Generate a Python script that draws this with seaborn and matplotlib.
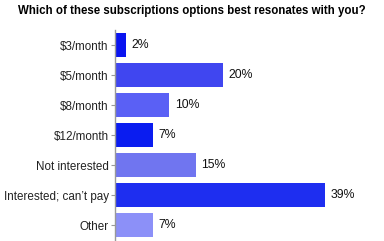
import matplotlib
matplotlib.use("Agg")
import matplotlib.pyplot as plt
import seaborn as sns
import pandas as pd

categories = ["$3/month", "$5/month", "$8/month", "$12/month",
              "Not interested", "Interested; can\u2019t pay", "Other"]
values = [2, 20, 10, 7, 15, 39, 7]
labels = ["2%", "20%", "10%", "7%", "15%", "39%", "7%"]
colors = ["#0a14f0", "#4046f0", "#5a60f5", "#0a1cf0",
          "#7075f0", "#1e2ef0", "#8c90f8"]

sns.set_style("white")
plt.rcParams['font.family'] = ['Liberation Sans', 'DejaVu Sans']

df = pd.DataFrame({"cat": categories, "val": values})

fig = plt.figure(figsize=(3.84, 2.41), dpi=100)
ax = fig.add_axes([115/384, 1/241, (384-115)/384, 210/241])

sns.barplot(data=df, y="cat", x="val", hue="cat", palette=colors,
            orient="h", width=0.8, legend=False, ax=ax, saturation=1,
            edgecolor="none")

for i, (v, t) in enumerate(zip(values, labels)):
    ax.text(v + 1.1, i, t, va="center", ha="left", fontsize=8.8, color="#111111")

ax.set_xlim(0, 50)
ax.set_ylim(6.5, -0.5)
ax.set_xlabel("")
ax.set_ylabel("")
ax.set_xticks([])
for s in ["top", "right", "bottom"]:
    ax.spines[s].set_visible(False)
ax.spines["left"].set_color("#999999")
ax.spines["left"].set_linewidth(1)
ax.tick_params(axis="y", length=3, width=0.8, color="#999999", pad=1.5,
               labelsize=8.4, labelcolor="#222222", left=True)

fig.text(0.5, 1 - 11/241, "Which of these subscriptions options best resonates with you?",
         ha="center", va="center", fontsize=8.3, fontweight="bold", color="#000000")

fig.savefig("out.png", dpi=100)
